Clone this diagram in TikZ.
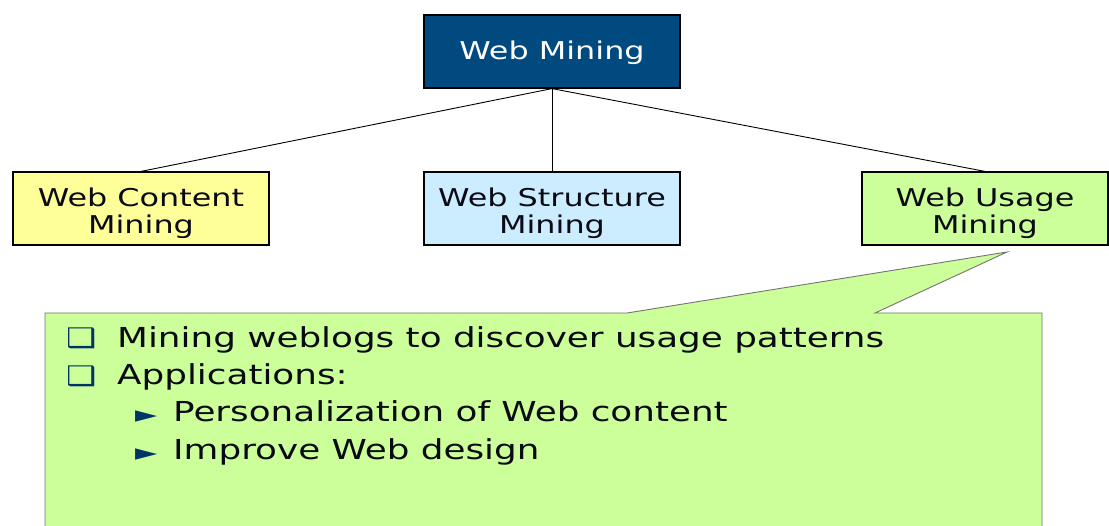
\documentclass[tikz,border=0pt]{standalone}
\usepackage{fontspec}
\setmainfont{DejaVu Sans}[FakeStretch=1.3]
\newfontfamily\bulletfont{DejaVu Sans}[FakeStretch=1.25]
\definecolor{topblue}{RGB}{0,74,128}
\definecolor{ylw}{RGB}{255,255,153}
\definecolor{lblue}{RGB}{204,236,255}
\definecolor{lgreen}{RGB}{204,255,153}
\definecolor{navy}{RGB}{0,51,102}
\definecolor{txt}{RGB}{10,10,20}
\begin{document}
\begin{tikzpicture}[x=1pt,y=-1pt,
  box/.style={draw=black, line width=1.2pt, minimum width=256pt, minimum height=73pt, inner sep=0pt},
  boxtext/.style={inner sep=0pt, align=center, font=\fontsize{24.5}{27}\selectfont, text=txt},
  conn/.style={draw=black, line width=0.9pt},
  lvlone/.style={anchor=base west, inner sep=0pt, font=\fontsize{27.5}{30}\selectfont, text=txt},
  sqbullet/.style={anchor=base west, inner sep=0pt, font=\bulletfont\fontsize{27}{30}\selectfont, text=navy},
  tribullet/.style={anchor=base west, inner sep=0pt, font=\bulletfont\fontsize{23}{26}\selectfont, text=navy}]
\useasboundingbox (0,0) rectangle (1109,526);
\clip (0,0) rectangle (1109,526);
\node[box, fill=topblue] (wm) at (552,51.5) {};
\node[boxtext, text=white] (wmt) at ([yshift=-1pt]wm.center) {Web Mining};
\node[box, fill=ylw] (wc) at (141,208.5) {};
\node[boxtext] (wct) at ([yshift=-5pt]wc.center) {Web Content\\Mining};
\node[box, fill=lblue] (ws) at (552,208.5) {};
\node[boxtext] (wst) at ([yshift=-5pt]ws.center) {Web Structure\\Mining};
\node[box, fill=lgreen, minimum width=246pt] (wu) at (985,208.5) {};
\node[boxtext] (wut) at ([yshift=-5pt]wu.center) {Web Usage\\Mining};
\draw[conn] (wm.south) -- (wc.north);
\draw[conn] (wm.south) -- (ws.north);
\draw[conn] (wm.south) -- (wu.north);
\coordinate (tip) at (1007,252);
\filldraw[fill=lgreen, draw=black!55, line width=0.9pt]
  (45,313) -- (627,313) -- (tip) -- (875,313) -- (1042,313) -- (1042,535) -- (45,535) -- cycle;
\node[sqbullet] (b1) at (66,348) {❑};
\node[lvlone] (t1) at (117,348) {Mining weblogs to discover usage patterns};
\node[sqbullet] (b2) at (66,386) {❑};
\node[lvlone] (t2) at (117,385) {Applications:};
\node[tribullet] (b3) at (135,423) {►};
\node[lvlone] (t3) at (173,422) {Personalization of Web content};
\node[tribullet] (b4) at (135,461) {►};
\node[lvlone] (t4) at (173,460) {Improve Web design};
\end{tikzpicture}
\end{document}
